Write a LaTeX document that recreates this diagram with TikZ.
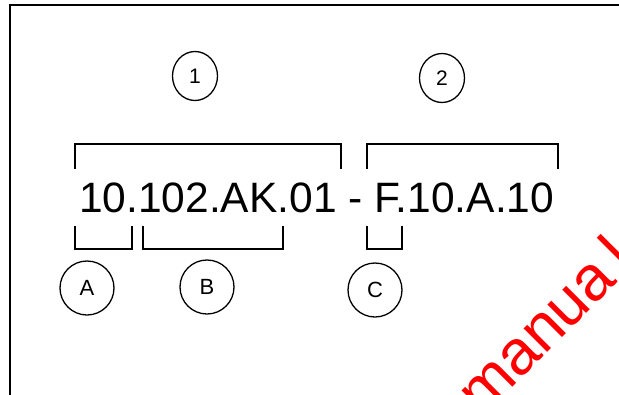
\documentclass[tikz,border=0pt]{standalone}
\usepackage{fontspec}
\setmainfont{Liberation Sans}
\usetikzlibrary{positioning}

\tikzset{
    numcirc/.style={draw, line width=1.3pt, ellipse, minimum width=45pt, minimum height=49pt, inner sep=0pt, font=\fontsize{21}{21}\selectfont},
    letcirc/.style={draw, line width=1.3pt, circle, minimum size=54pt, inner sep=0pt, font=\fontsize{22}{22}\selectfont},
    brack/.style={line width=1.3pt}
}
\usetikzlibrary{shapes.geometric}

\begin{document}
\begin{tikzpicture}[x=1pt,y=-1pt]

\useasboundingbox (0,0) rectangle (619,394);
\clip (0,0) rectangle (619,394);

% frame, cut off at right and bottom
\draw[line width=2pt] (10,400) -- (10,5) -- (630,5);

% part numbers
\node[numcirc] (one) at (195,76) {1};
\node[numcirc] (two) at (442,78) {2};

% the code
\node[anchor=base west, inner sep=0pt, font=\fontsize{42.5}{42.5}\selectfont] (code) at (79,212) {10.102.AK.01 - F.10.A.10};

% upper brackets
\draw[brack] (75,169) -- (75,144) -- (341,144) -- (341,169);
\draw[brack] (367,169) -- (367,144) -- (558,144) -- (558,169);

% lower brackets
\draw[brack] (75,226) -- (75,249) -- (132,249) -- (132,226);
\draw[brack] (143,226) -- (143,249) -- (283,249) -- (283,226);
\draw[brack] (367,226) -- (367,249) -- (402,249) -- (402,226);

% letters
\node[letcirc] (lA) at (87,288) {A};
\node[letcirc] (lB) at (207,287) {B};
\node[letcirc] (lC) at (375,290) {C};

% watermark
\node[anchor=base west, inner sep=0pt, rotate=45, text=red, font=\fontsize{63}{63}\selectfont] (mark) at (482,418) {manua\kern12pt l};

\end{tikzpicture}
\end{document}
